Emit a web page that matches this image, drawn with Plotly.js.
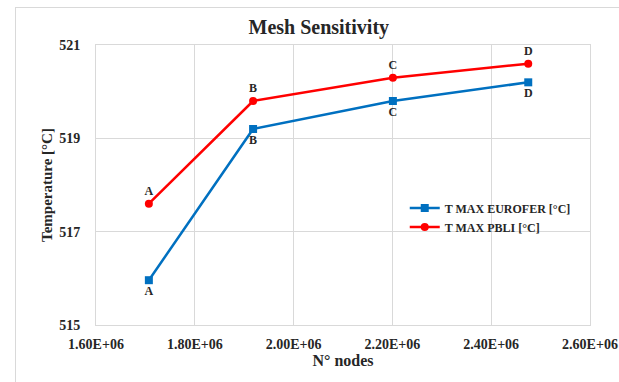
<!DOCTYPE html>
<html><head><meta charset="utf-8">
<script src="https://cdn.plot.ly/plotly-3.0.1.min.js"></script>
<style>
body{margin:0;padding:0;background:#fff;}
#frame{position:absolute;left:15px;top:7px;width:620px;height:390px;border-left:1px solid #d9d9d9;border-top:1px solid #d9d9d9;pointer-events:none;}
#chart{width:619px;height:382px;}
</style></head>
<body>
<div id="chart"></div>
<div id="frame"></div>
<script>
const nodes = [1707000, 1918000, 2201000, 2475000];
const pointLabels = ['A', 'B', 'C', 'D'];
const tEurofer = [515.96, 519.2, 519.8, 520.2];
const tPbli = [517.6, 519.8, 520.3, 520.6];
const xTickVals = [1600000, 1800000, 2000000, 2200000, 2400000, 2600000];
const xTickText = ['1.60E+06', '1.80E+06', '2.00E+06', '2.20E+06', '2.40E+06', '2.60E+06'];
const yTickVals = [515, 517, 519, 521];
const yTickText = ['515', '517', '519', '521'];

const F = 'Liberation Serif';
const bold = a => a.map(s => '<b>' + s + '</b>');
const traces = [
  {x: nodes, y: tEurofer, name: '<b>T MAX EUROFER [°C]</b>', mode: 'lines+markers+text',
   text: bold(pointLabels), textposition: 'bottom center',
   textfont: {family: F, size: 12, color: '#262626', weight: 'bold'},
   line: {color: '#0070C0', width: 2.5}, marker: {symbol: 'square', size: 8, color: '#0070C0'}},
  {x: nodes, y: tPbli, name: '<b>T MAX PBLI [°C]</b>', mode: 'lines+markers+text',
   text: bold(pointLabels), textposition: 'top center',
   textfont: {family: F, size: 12, color: '#262626', weight: 'bold'},
   line: {color: '#FF0000', width: 2.5}, marker: {symbol: 'circle', size: 8, color: '#FF0000'}}
];
const layout = {
  width: 619, height: 382,
  margin: {l: 96, r: 29, t: 45, b: 57},
  paper_bgcolor: 'rgba(0,0,0,0)', plot_bgcolor: '#fff',
  font: {family: F, color: '#262626'},
  title: {text: '<b>Mesh Sensitivity</b>', font: {family: F, size: 20, color: '#262626', weight: 'bold'}, x: 0.515, xanchor: 'center', y: 0.93, yanchor: 'middle'},
  xaxis: {range: [1600000, 2600000], tickvals: xTickVals, ticktext: bold(xTickText),
    showgrid: true, gridcolor: '#d9d9d9', zeroline: false, showline: true, linecolor: '#d9d9d9', mirror: true,
    ticks: '', ticklabelstandoff: 6, tickfont: {family: F, size: 14, color: '#262626', weight: 'bold'},
    title: {text: '<b>N° nodes</b>', font: {family: F, size: 16, color: '#262626', weight: 'bold'}, standoff: 4}},
  yaxis: {range: [515, 521], tickvals: yTickVals, ticktext: bold(yTickText),
    showgrid: true, gridcolor: '#d9d9d9', zeroline: false, showline: true, linecolor: '#d9d9d9', mirror: true,
    ticks: '', ticklabelstandoff: 12, tickfont: {family: F, size: 14, color: '#262626', weight: 'bold'},
    title: {text: '<b>Temperature [°C]</b>', font: {family: F, size: 15, color: '#262626', weight: 'bold'}, standoff: 2}},
  showlegend: true,
  legend: {x: 0.625, y: 0.47, xanchor: 'left', yanchor: 'top', bgcolor: 'rgba(0,0,0,0)',
    font: {family: F, size: 12, color: '#262626', weight: 'bold'}, itemwidth: 30, tracegroupgap: 4}
};
Plotly.newPlot('chart', traces, layout, {displayModeBar: false, staticPlot: true});
</script>
</body></html>
